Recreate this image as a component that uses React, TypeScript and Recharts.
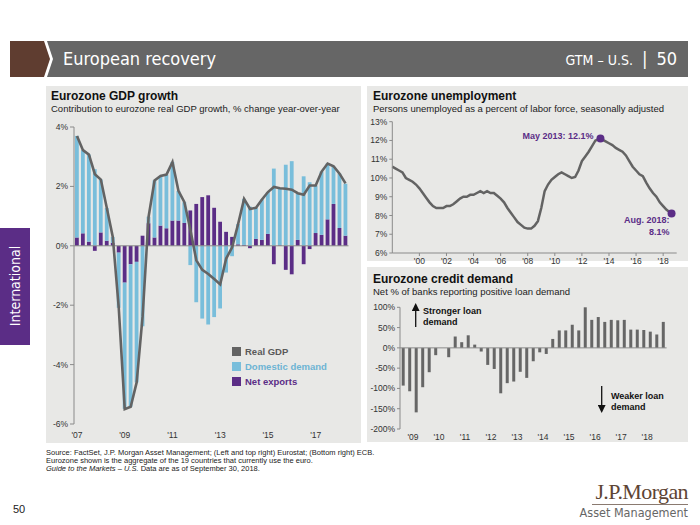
import React from 'react'
import {
  ComposedChart,
  LineChart,
  BarChart,
  Bar,
  Line,
  XAxis,
  YAxis,
  ReferenceLine,
  ReferenceDot,
} from 'recharts'

const sans = '"Liberation Sans", Arial, sans-serif'
const narrow = '"Liberation Sans Narrow", "DejaVu Sans Condensed", "Liberation Sans", sans-serif'
const purple = '#5b2d86'
const blue = '#79bedb'
const lineGray = '#636363'
const panelBg = '#e8e8e6'
const axisGray = '#8a8a8a'

// ---- Eurozone GDP growth (quarterly, % y/y) ----
const gdpQuarters = [
  'Q1 07', 'Q2 07', 'Q3 07', 'Q4 07', 'Q1 08', 'Q2 08', 'Q3 08', 'Q4 08',
  'Q1 09', 'Q2 09', 'Q3 09', 'Q4 09', 'Q1 10', 'Q2 10', 'Q3 10', 'Q4 10',
  'Q1 11', 'Q2 11', 'Q3 11', 'Q4 11', 'Q1 12', 'Q2 12', 'Q3 12', 'Q4 12',
  'Q1 13', 'Q2 13', 'Q3 13', 'Q4 13', 'Q1 14', 'Q2 14', 'Q3 14', 'Q4 14',
  'Q1 15', 'Q2 15', 'Q3 15', 'Q4 15', 'Q1 16', 'Q2 16', 'Q3 16', 'Q4 16',
  'Q1 17', 'Q2 17', 'Q3 17', 'Q4 17', 'Q1 18', 'Q2 18',
]
const realGdp = [
  3.7, 3.22, 3.07, 2.41, 2.23, 1.27, 0.3, -2.09,
  -5.5, -5.42, -4.6, -2.37, 0.98, 2.2, 2.35, 2.4,
  2.82, 1.85, 1.47, 0.54, -0.49, -0.81, -0.95, -1.12,
  -1.3, -0.43, -0.05, 0.73, 1.58, 1.24, 1.28, 1.56,
  1.81, 1.98, 1.94, 1.92, 1.89, 1.77, 1.72, 2.03,
  2.03, 2.5, 2.77, 2.68, 2.43, 2.1,
]
const domesticDemand = [
  3.42, 2.8, 2.93, 2.58, 1.78, 1.1, 0.2, -1.86,
  -4.25, -4.8, -4.06, -2.71, 0.22, 1.92, 1.67, 1.81,
  1.97, 1.0, 0.7, -0.65, -1.9, -2.45, -2.65, -2.4,
  -2.11, -0.9, -0.35, 0.68, 1.55, 1.32, 1.05, 1.36,
  1.41, 2.6, 1.92, 2.73, 2.85, 1.55, 2.34, 2.14,
  1.6, 2.13, 1.88, 1.25, 1.83, 1.75,
]
const netExports = [
  0.28, 0.42, 0.14, -0.17, 0.45, 0.17, 0.1, -0.23,
  -1.24, -0.62, -0.54, 0.34, 0.76, 0.28, 0.68, 0.59,
  0.85, 0.85, 0.77, 1.19, 1.41, 1.64, 1.7, 1.28,
  0.81, 0.47, 0.3, 0.05, 0.03, -0.08, 0.23, 0.2,
  0.4, -0.62, 0.02, -0.81, -0.96, 0.2, -0.62, -0.11,
  0.43, 0.37, 0.89, 1.41, 0.6, 0.34,
]
const gdpYearLabels: Record<string, string> = {
  'Q1 07': "'07", 'Q1 09': "'09", 'Q1 11': "'11", 'Q1 13': "'13", 'Q1 15': "'15", 'Q1 17': "'17",
}
const gdpTicks = [-6, -4, -2, 0, 2, 4]

// ---- Eurozone unemployment (% of labor force) ----
const unempDates = [
  1998, 1998.25, 1998.5, 1998.75, 1999, 1999.25, 1999.5, 1999.75,
  2000, 2000.25, 2000.5, 2000.75, 2001, 2001.25, 2001.5, 2001.75,
  2002, 2002.25, 2002.5, 2002.75, 2003, 2003.25, 2003.5, 2003.75,
  2004, 2004.25, 2004.5, 2004.75, 2005, 2005.25, 2005.5, 2005.75,
  2006, 2006.25, 2006.5, 2006.75, 2007, 2007.25, 2007.5, 2007.75,
  2008, 2008.25, 2008.5, 2008.75, 2009, 2009.25, 2009.5, 2009.75,
  2010, 2010.25, 2010.5, 2010.75, 2011, 2011.25, 2011.5, 2011.75,
  2012, 2012.25, 2012.5, 2012.75, 2013, 2013.37, 2013.75,
  2014, 2014.25, 2014.5, 2014.75, 2015, 2015.25, 2015.5, 2015.75,
  2016, 2016.25, 2016.5, 2016.75, 2017, 2017.25, 2017.5, 2017.75,
  2018, 2018.25, 2018.62,
]
const unempRates = [
  10.6, 10.5, 10.4, 10.3, 10.0, 9.9, 9.8, 9.65,
  9.45, 9.2, 8.95, 8.7, 8.5, 8.4, 8.4, 8.4,
  8.5, 8.5, 8.6, 8.75, 8.9, 9.0, 9.0, 9.1,
  9.1, 9.2, 9.3, 9.2, 9.3, 9.2, 9.2, 9.05,
  8.9, 8.7, 8.4, 8.15, 7.9, 7.65, 7.5, 7.35,
  7.3, 7.3, 7.45, 7.7, 8.4, 9.3, 9.65, 9.9,
  10.05, 10.2, 10.3, 10.2, 10.1, 10.0, 10.05, 10.4,
  10.9, 11.15, 11.4, 11.7, 12.0, 12.1, 11.95,
  11.85, 11.75, 11.6, 11.5, 11.4, 11.2, 10.9, 10.6,
  10.4, 10.2, 10.1, 9.75, 9.45, 9.2, 9.0, 8.7,
  8.5, 8.3, 8.1,
]
const unempYearTicks = [2000, 2002, 2004, 2006, 2008, 2010, 2012, 2014, 2016, 2018]
const unempTicks = [6, 7, 8, 9, 10, 11, 12, 13]
const peakPoint = { t: 2013.37, v: 12.1, label: 'May 2013: 12.1%' }
const lastPoint = { t: 2018.62, v: 8.1, label1: 'Aug. 2018:', label2: '8.1%' }

// ---- Eurozone credit demand (net % of banks) ----
const creditQuarters = [
  'Q1 09', 'Q2 09', 'Q3 09', 'Q4 09', 'Q1 10', 'Q2 10', 'Q3 10', 'Q4 10',
  'Q1 11', 'Q2 11', 'Q3 11', 'Q4 11', 'Q1 12', 'Q2 12', 'Q3 12', 'Q4 12',
  'Q1 13', 'Q2 13', 'Q3 13', 'Q4 13', 'Q1 14', 'Q2 14', 'Q3 14', 'Q4 14',
  'Q1 15', 'Q2 15', 'Q3 15', 'Q4 15', 'Q1 16', 'Q2 16', 'Q3 16', 'Q4 16',
  'Q1 17', 'Q2 17', 'Q3 17', 'Q4 17', 'Q1 18', 'Q2 18', 'Q3 18', 'Q4 18',
  'Q1 19',
]
const creditDemand = [
  -93, -107, -159, -97, -60, -18, 0, -23,
  28, 14, 31, 8, -9, -42, -52, -112,
  -87, -83, -59, -74, -33, -11, -15, 22,
  43, 43, 57, 43, 100, 69, 76, 64,
  69, 68, 69, 45, 45, 44, 40, 33,
  64,
]
const creditYearLabels: Record<string, string> = {
  'Q2 09': "'09", 'Q2 10': "'10", 'Q2 11': "'11", 'Q2 12': "'12", 'Q2 13': "'13",
  'Q2 14': "'14", 'Q2 15': "'15", 'Q2 16': "'16", 'Q2 17': "'17", 'Q2 18': "'18",
}
const creditTicks = [-200, -150, -100, -50, 0, 50, 100]

const gdpData = gdpQuarters.map((q, i) => ({
  q,
  gdp: realGdp[i],
  dom: domesticDemand[i],
  nx: netExports[i],
}))
const unempData = unempDates.map((t, i) => ({ t, v: unempRates[i] }))
const creditData = creditQuarters.map((q, i) => ({ q, v: creditDemand[i] }))

const legendItems = [
  { name: 'Real GDP', box: '#636363', text: '#5a5a5a' },
  { name: 'Domestic demand', box: blue, text: '#6db4d4' },
  { name: 'Net exports', box: purple, text: purple },
]

const tickStyle = { fontSize: 8.5, fill: '#333', fontFamily: sans }

function GdpLegend() {
  return (
    <div style={{ position: 'absolute', left: 232, top: 344, fontFamily: sans, fontSize: 9.5, fontWeight: 'bold' }}>
      {legendItems.map((it) => (
        <div key={it.name} style={{ display: 'flex', alignItems: 'center', height: 15 }}>
          <span style={{ width: 9, height: 9, background: it.box, marginRight: 4, display: 'inline-block' }} />
          <span style={{ color: it.text }}>{it.name}</span>
        </div>
      ))}
    </div>
  )
}

function CreditTick(props: any) {
  const { x, y, payload } = props
  const label = creditYearLabels[payload.value]
  if (!label) return <g />
  return (
    <text x={x + 3.25} y={y} dy="0.71em" textAnchor="middle" style={tickStyle}>
      {label}
    </text>
  )
}

function Title({ x, y, title, sub }: any) {
  return (
    <div style={{ position: 'absolute', left: x, top: y, fontFamily: sans, color: '#111' }}>
      <div style={{ fontSize: 12, fontWeight: 'bold', lineHeight: '13px' }}>{title}</div>
      <div style={{ fontSize: 9.5, lineHeight: '12px', color: '#222' }}>{sub}</div>
    </div>
  )
}

export default function App() {
  return (
    <div style={{ position: 'absolute', left: 0, top: 0, width: 700, height: 525, background: '#fff', overflow: 'hidden' }}>
      {/* header */}
      <svg width={700} height={90} style={{ position: 'absolute', left: 0, top: 0 }}>
        <polygon points="10,41 44,41 50,59 44,77 10,77" fill="#5f3d30" />
        <polygon points="47,41 688,41 688,77 47,77 53,59" fill="#666666" />
        <text x={63} y={65} fill="#fff" fontSize={18} fontFamily={narrow}>European recovery</text>
        <text x={677} y={65} fill="#fff" fontSize={18} fontFamily={narrow} textAnchor="end">
          <tspan fontSize={14}>GTM – U.S.</tspan>
          <tspan dx={9}>|</tspan>
          <tspan dx={9}>50</tspan>
        </text>
      </svg>

      {/* side tab */}
      <div style={{ position: 'absolute', left: 0, top: 228, width: 30, height: 117, background: purple }}>
        <div style={{
          position: 'absolute', left: 15, top: 58, transform: 'translate(-50%, -50%) rotate(-90deg)',
          color: '#fff', fontFamily: narrow, fontSize: 14, whiteSpace: 'nowrap',
        }}>International</div>
      </div>

      {/* panels */}
      <div style={{ position: 'absolute', left: 46, top: 86, width: 315, height: 357, background: panelBg }} />
      <div style={{ position: 'absolute', left: 367, top: 86, width: 321, height: 175, background: panelBg }} />
      <div style={{ position: 'absolute', left: 367, top: 267, width: 321, height: 175, background: panelBg }} />

      <Title x={51} y={90} title="Eurozone GDP growth" sub="Contribution to eurozone real GDP growth, % change year-over-year" />
      <Title x={373} y={90} title="Eurozone unemployment" sub="Persons unemployed as a percent of labor force, seasonally adjusted" />
      <Title x={373} y={273} title="Eurozone credit demand" sub="Net % of banks reporting positive loan demand" />

      {/* GDP chart */}
      <div style={{ position: 'absolute', left: 40, top: 118 }}>
        <ComposedChart
          width={320}
          height={330}
          data={gdpData}
          margin={{ top: 9, right: 11.5, bottom: 4, left: 0 }}
          stackOffset="sign"
          barSize={3.8}
        >
          <XAxis
            dataKey="q"
            interval={0}
            axisLine={false}
            tickLine={false}
            height={20}
            tick={tickStyle}
            tickFormatter={(v: string) => gdpYearLabels[v] || ''}
          />
          <YAxis
            domain={[-6, 4]}
            ticks={gdpTicks}
            width={34}
            tickSize={4}
            axisLine={{ stroke: axisGray }}
            tickLine={{ stroke: axisGray }}
            tick={tickStyle}
            tickFormatter={(v: number) => `${v}%`}
          />
          <ReferenceLine y={0} stroke={axisGray} />
          <Bar dataKey="nx" stackId="a" fill={purple} barSize={3.8} isAnimationActive={false} />
          <Bar dataKey="dom" stackId="a" fill={blue} barSize={3.8} isAnimationActive={false} />
          <Line
            dataKey="gdp"
            type="linear"
            stroke={lineGray}
            strokeWidth={2.6}
            dot={false}
            isAnimationActive={false}
          />
        </ComposedChart>
      </div>
      <GdpLegend />

      {/* unemployment chart */}
      <div style={{ position: 'absolute', left: 365, top: 112 }}>
        <LineChart
          width={325}
          height={162}
          data={unempData}
          margin={{ top: 9.7, right: 13.3, bottom: 4, left: 0 }}
        >
          <XAxis
            type="number"
            dataKey="t"
            domain={[1998, 2019]}
            ticks={unempYearTicks}
            interval={0}
            height={17}
            tickSize={3}
            axisLine={{ stroke: axisGray }}
            tickLine={{ stroke: axisGray }}
            tick={tickStyle}
            tickFormatter={(v: number) => `'${String(v).slice(2)}`}
          />
          <YAxis
            domain={[6, 13]}
            ticks={unempTicks}
            width={27.3}
            tickSize={3}
            axisLine={{ stroke: axisGray }}
            tickLine={{ stroke: axisGray }}
            tick={tickStyle}
            tickFormatter={(v: number) => `${v}%`}
          />
          <Line
            dataKey="v"
            type="linear"
            stroke={lineGray}
            strokeWidth={2.5}
            dot={false}
            isAnimationActive={false}
          />
          <ReferenceDot
            x={peakPoint.t}
            y={peakPoint.v}
            r={4}
            fill={purple}
            stroke="none"
            label={{
              content: (p: any) => {
                const cx = p.viewBox.x + p.viewBox.width / 2
                const cy = p.viewBox.y + p.viewBox.height / 2
                return (
                  <text x={cx - 7} y={cy} textAnchor="end" fill={purple} fontSize={9} fontWeight="bold" fontFamily={sans}>
                    {peakPoint.label}
                  </text>
                )
              },
            }}
          />
          <ReferenceDot
            x={lastPoint.t}
            y={lastPoint.v}
            r={4}
            fill={purple}
            stroke="none"
            label={{
              content: (p: any) => {
                const cx = p.viewBox.x + p.viewBox.width / 2
                const cy = p.viewBox.y + p.viewBox.height / 2
                return (
                  <text textAnchor="end" fill={purple} fontSize={9} fontWeight="bold" fontFamily={sans}>
                    <tspan x={cx - 2} y={cy + 9}>{lastPoint.label1}</tspan>
                    <tspan x={cx - 2} y={cy + 21}>{lastPoint.label2}</tspan>
                  </text>
                )
              },
            }}
          />
        </LineChart>
      </div>

      {/* credit chart */}
      <div style={{ position: 'absolute', left: 365, top: 298 }}>
        <BarChart
          width={325}
          height={148}
          data={creditData}
          margin={{ top: 9.3, right: 23.4, bottom: 3, left: 0 }}
          barCategoryGap="26%"
        >
          <XAxis
            dataKey="q"
            interval={0}
            axisLine={false}
            tickLine={false}
            tickSize={3}
            height={14}
            tick={<CreditTick />}
          />
          <YAxis
            domain={[-200, 100]}
            ticks={creditTicks}
            width={35}
            tickSize={3}
            axisLine={{ stroke: axisGray }}
            tickLine={{ stroke: axisGray }}
            tick={tickStyle}
            tickFormatter={(v: number) => `${v}%`}
          />
          <ReferenceLine y={0} stroke={axisGray} />
          <Bar dataKey="v" fill="#666666" isAnimationActive={false} />
        </BarChart>
      </div>

      {/* credit annotations */}
      <svg width={700} height={525} style={{ position: 'absolute', left: 0, top: 0, pointerEvents: 'none' }}>
        <defs>
          <marker id="ah" markerWidth="6" markerHeight="6" refX="3" refY="3" orient="auto">
            <path d="M0,0 L6,3 L0,6 z" fill="#111" />
          </marker>
        </defs>
        <line x1={415.7} y1={327} x2={415.7} y2={307} stroke="#111" strokeWidth={1.3} markerEnd="url(#ah)" />
        <text fontFamily={sans} fontSize={9} fontWeight="bold" fill="#111">
          <tspan x={423} y={314}>Stronger loan</tspan>
          <tspan x={423} y={325}>demand</tspan>
        </text>
        <line x1={601.7} y1={386} x2={601.7} y2={409} stroke="#111" strokeWidth={1.3} markerEnd="url(#ah)" />
        <text fontFamily={sans} fontSize={9} fontWeight="bold" fill="#111">
          <tspan x={611} y={399}>Weaker loan</tspan>
          <tspan x={611} y={410}>demand</tspan>
        </text>
      </svg>

      {/* footer */}
      <div style={{ position: 'absolute', left: 46, top: 449, fontFamily: sans, fontSize: 7.5, lineHeight: '8.2px', color: '#222' }}>
        <div>Source: FactSet, J.P. Morgan Asset Management; (Left and top right) Eurostat; (Bottom right) ECB.</div>
        <div>Eurozone shown is the aggregate of the 19 countries that currently use the euro.</div>
        <div><i>Guide to the Markets – U.S.</i> Data are as of September 30, 2018.</div>
      </div>
      <div style={{ position: 'absolute', left: 13, top: 503, fontFamily: sans, fontSize: 11, color: '#222' }}>50</div>
      <div style={{ position: 'absolute', left: 570, top: 480, width: 118, textAlign: 'right', whiteSpace: 'nowrap' }}>
        <div style={{ fontFamily: '"Liberation Serif", "DejaVu Serif", serif', fontSize: 22, color: '#5d4434', lineHeight: '23px', letterSpacing: -0.6 }}>J.P.Morgan</div>
        <div style={{ borderTop: '1px solid #8a7a70', marginTop: 1, marginLeft: 22 }} />
        <div style={{ fontFamily: narrow, fontSize: 12.5, color: '#666', lineHeight: '15px' }}>Asset Management</div>
      </div>
    </div>
  )
}
